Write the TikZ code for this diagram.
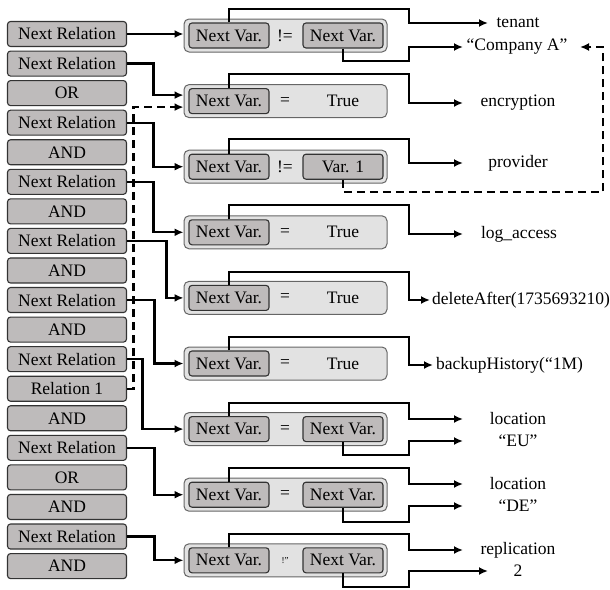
\documentclass[tikz,border=0pt]{standalone}
\usepackage{fontspec}
\setmainfont{Liberation Serif}
\usetikzlibrary{arrows.meta}
\definecolor{boxgray}{RGB}{190,187,187}
\definecolor{outergray}{RGB}{226,226,226}
\begin{document}
\begin{tikzpicture}[x=1pt,y=-1pt,
  font=\fontsize{17.5}{20}\selectfont,
  relbox/.style={draw=black!80, line width=1.1pt, fill=boxgray, rounded corners=3pt,
    minimum width=119pt, minimum height=25pt, inner sep=0pt},
  outerbox/.style={draw=black!60, line width=1pt, fill=outergray, rounded corners=5pt,
    minimum width=203pt, minimum height=33pt, inner sep=0pt},
  varbox/.style={relbox, minimum width=80pt},
  conn/.style={line width=2.2pt, -{Latex[length=9pt,width=8pt]}},
  dashconn/.style={conn, dash pattern=on 8pt off 5pt},
  lab/.style={inner sep=0pt}
]
\useasboundingbox (0,0) rectangle (610,589);

% left column
\foreach \t [count=\i from 0] in {Next Relation, Next Relation, OR, Next Relation, AND,
  Next Relation, AND, Next Relation, AND, Next Relation, AND, Next Relation, Relation 1,
  AND, Next Relation, OR, AND, Next Relation, AND}
  \node[relbox] (l\i) at (67,{34+29.56*\i}) {\t};

% middle boxes
\foreach \j in {0,...,8} {
  \node[outerbox] (m\j) at (285.5,{35.5+65.6*\j}) {};
  \node[varbox] (a\j) at (229,{35.5+65.6*\j}) {Next Var.};
}
% operators
\foreach \j/\op in {0/{!=},1/{=},2/{!=},3/{=},4/{=},5/{=},6/{=},7/{=}}
  \node[lab] (o\j) at (285,{35.5+65.6*\j}) {\op};
\node[lab] (o8) at (285,{35.5+65.6*8}) {\fontsize{9}{10}\selectfont !"};
% right operands
\node[varbox] (b0) at (343,35.5) {Next Var.};
\node[lab] (b1) at (343,101.1) {True};
\node[varbox] (b2) at (343,166.7) {Var. 1};
\node[lab] (b3) at (343,232.3) {True};
\node[lab] (b4) at (343,297.9) {True};
\node[lab] (b5) at (343,363.5) {True};
\node[varbox] (b6) at (343,429.1) {Next Var.};
\node[varbox] (b7) at (343,494.7) {Next Var.};
\node[varbox] (b8) at (343,560.3) {Next Var.};

% right labels
\node[lab] (r0) at (518,23) {tenant};
\node[lab] (r0b) at (517,47) {“Company A”};
\node[lab] (r1) at (518,103) {encryption};
\node[lab] (r2) at (518,163) {provider};
\node[lab] (r3) at (519,234) {log\textunderscore access};
\node[lab,anchor=west] (r4) at (432,300) {deleteAfter(1735693210)};
\node[lab,anchor=west] (r5) at (436,365) {backupHistory(“1M)};
\node[lab] (r6) at (518,419) {location};
\node[lab] (r6b) at (518,441) {“EU”};
\node[lab] (r7) at (518,484) {location};
\node[lab] (r7b) at (518,506) {“DE”};
\node[lab] (r8) at (518,550) {replication};
\node[lab] (r8b) at (518,571) {2};

% left -> middle connectors
\draw[conn] (l0.east) -- (l0.east -| m0.west);
\draw[conn] (l1.east) -| ([xshift=-30pt,yshift=6pt]m1.west) -- ([yshift=6pt]m1.west);
\draw[conn] (l3.east) -| ([xshift=-30pt]m2.west) -- (m2.west);
\draw[conn] (l5.east) -| ([xshift=-30pt]m3.west) -- (m3.west);
\draw[conn] (l7.east) -| ([xshift=-17pt]m4.west) -- (m4.west);
\draw[conn] (l9.east) -| ([xshift=-29pt]m5.west) -- (m5.west);
\draw[conn] (l11.east) -| ([xshift=-41pt]m6.west) -- (m6.west);
\draw[conn] (l14.east) -| ([xshift=-29pt]m7.west) -- (m7.west);
\draw[conn] (l17.east) -| ([xshift=-29pt]m8.west) -- (m8.west);
\draw[dashconn] (l12.east) -| ([xshift=-50pt,yshift=-6pt]m1.west) -- ([yshift=-6pt]m1.west);

% middle -> right connectors
\draw[conn] (a0.north) |- (409,9) |- (488,23);
\draw[conn] (b0.south) |- (409,61) |- (463,47);
\draw[conn] (a1.north) |- (409,74) |- (463,103);
\draw[conn] (a2.north) |- (409,139) |- (463,163);
\draw[dashconn] (b2.south) |- (603,192) |- (580,47);
\draw[conn] (a3.north) |- (409,205) |- (463,234);
\draw[conn] (a4.north) |- (409,272) |- (430,300);
\draw[conn] (a5.north) |- (409,337) |- (433,365);
\draw[conn] (a6.north) |- (409,403) |- (463,419);
\draw[conn] (b6.south) |- (409,455) |- (463,441);
\draw[conn] (a7.north) |- (409,468) |- (463,484);
\draw[conn] (b7.south) |- (409,522) |- (463,506);
\draw[conn] (a8.north) |- (409,534) |- (463,550);
\draw[conn] (b8.south) |- (409,587) |- (488,571);
\end{tikzpicture}
\end{document}
